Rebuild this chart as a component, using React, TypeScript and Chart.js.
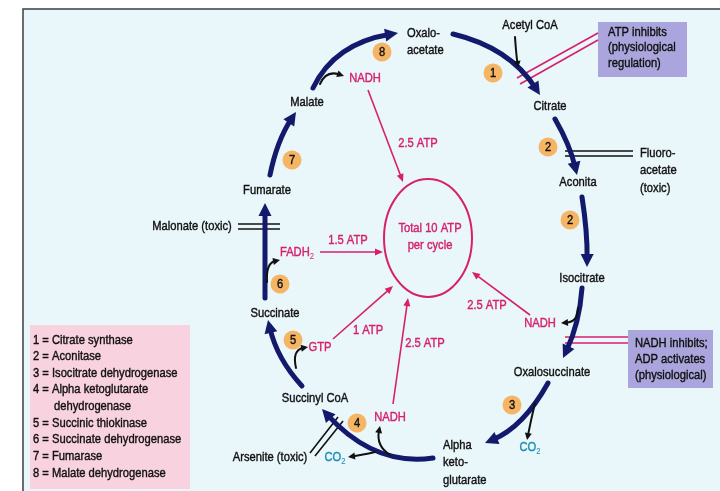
import React, { useEffect, useRef } from "react";
import { Chart, registerables } from "chart.js";
Chart.register(...registerables);

const W = 720;
const H = 491;

// Metabolites of the cycle (label lines, anchor x, anchor y, alignment)
const nodeLines = [["Oxalo-", "acetate"], ["Citrate"], ["Aconita"], ["Isocitrate"], ["Oxalosuccinate"], ["Alpha", "keto-", "glutarate"], ["Succinyl CoA"], ["Succinate"], ["Fumarate"], ["Malate"]];
const nodeX = [407, 550, 578, 582, 552, 443, 315, 275, 267, 307];
const nodeY = [33, 106, 182, 278, 372, 445, 398, 313, 190, 102];
const nodeAlign = ["left", "center", "center", "center", "center", "left", "center", "center", "center", "center"];

// Enzyme markers
const enzymeNums = ["1", "2", "2", "3", "4", "5", "6", "7", "8"];
const enzymeX = [493, 548, 570, 512, 357, 293, 280, 292, 382];
const enzymeY = [73, 147, 220, 405, 423, 340, 284, 160, 52];

// Cycle arcs: start, through-point, end
const cycleArcs = [
  [453, 34, 503, 56, 540, 95],
  [555, 119, 568, 146, 577, 175],
  [582, 197, 586, 232, 587, 267],
  [582, 288, 576, 323, 563, 358],
  [548, 383, 520, 420, 485, 443],
  [433, 458, 376, 450, 322, 409],
  [302, 386, 281, 356, 268, 320],
  [265, 298, 265, 250, 265, 203],
  [270, 175, 280, 142, 296, 112],
  [313, 88, 345, 52, 398, 33],
];

// Side-product arrows: start, control, end
const sideArrows = [
  [515, 37, 516, 52, 518, 68],
  [320, 84, 326, 70, 344, 76],
  [578, 308, 578, 322, 561, 323],
  [535, 403, 531, 420, 527, 440],
  [390, 455, 376, 446, 380, 426],
  [375, 452, 362, 455, 348, 457],
  [296, 368, 292, 350, 308, 347],
  [267, 282, 266, 263, 280, 260],
];

// Energy arrows to the ATP total
const energyArrows = [
  [368, 90, 403, 182],
  [320, 252, 383, 252],
  [333, 339, 393, 286],
  [393, 404, 408, 298],
  [530, 315, 472, 272],
];
const atpLabels = ["2.5 ATP", "1.5 ATP", "1 ATP", "2.5 ATP", "2.5 ATP"];
const atpX = [418, 348, 368, 425, 487];
const atpY = [143, 240, 330, 343, 305];

const nadhX = [365, 540, 390];
const nadhY = [78, 323, 417];
const co2X = [530, 335];
const co2Y = [447, 457];

// Inhibitor bars
const blackBars = [
  [238, 224, 280, 224], [238, 229, 280, 229],
  [565, 151, 633, 151], [565, 156, 633, 156],
  [310, 453, 338, 417], [315, 456, 343, 421],
];
const pinkBars = [
  [598, 33, 517, 78], [598, 40, 520, 84],
  [628, 337, 565, 337], [628, 343, 565, 343],
];

const atpBox = ["ATP inhibits", "(physiological", "regulation)"];
const nadhBox = ["NADH inhibits;", "ADP activates", "(physiological)"];
const fluoroLines = ["Fluoro-", "acetate", "(toxic)"];

const legendLines = [
  "1 = Citrate synthase",
  "2 = Aconitase",
  "3 = Isocitrate dehydrogenase",
  "4 = Alpha ketoglutarate",
  "dehydrogenase",
  "5 = Succinic thiokinase",
  "6 = Succinate dehydrogenase",
  "7 = Fumarase",
  "8 = Malate dehydrogenase",
];
const legendIndent = [0, 0, 0, 0, 1, 0, 0, 0, 0];
const legendY = [340, 356, 373, 389, 406, 423, 439, 456, 473];

const NAVY = "#131a6c";
const PINK = "#d6206c";
const TEAL = "#1a8db8";
const FONT = '"Liberation Sans", Arial, sans-serif';
const SX = 0.86;

function txt(ctx, s, x, y, color, align = "center", size = 13) {
  ctx.save();
  ctx.font = `${size}px ${FONT}`;
  ctx.fillStyle = color;
  ctx.strokeStyle = color;
  ctx.lineWidth = 0.4;
  ctx.textBaseline = "middle";
  ctx.textAlign = align;
  ctx.translate(x, y);
  ctx.scale(SX, 1);
  ctx.fillText(s, 0, 0);
  ctx.strokeText(s, 0, 0);
  ctx.restore();
}

function txtSub(ctx, base, sub, x, y, color) {
  ctx.save();
  ctx.font = `13px ${FONT}`;
  const w1 = ctx.measureText(base).width;
  ctx.font = `9px ${FONT}`;
  const w2 = ctx.measureText(sub).width;
  const total = (w1 + w2) * SX;
  ctx.translate(x - total / 2, y);
  ctx.scale(SX, 1);
  ctx.fillStyle = color;
  ctx.strokeStyle = color;
  ctx.lineWidth = 0.4;
  ctx.textBaseline = "middle";
  ctx.textAlign = "left";
  ctx.font = `13px ${FONT}`;
  ctx.fillText(base, 0, 0);
  ctx.strokeText(base, 0, 0);
  ctx.font = `9px ${FONT}`;
  ctx.fillText(sub, w1, 5);
  ctx.restore();
}

function head(ctx, x, y, fx, fy, len, half, color) {
  const a = Math.atan2(y - fy, x - fx);
  ctx.save();
  ctx.fillStyle = color;
  ctx.beginPath();
  ctx.moveTo(x, y);
  ctx.lineTo(x - len * Math.cos(a) + half * Math.sin(a), y - len * Math.sin(a) - half * Math.cos(a));
  ctx.lineTo(x - len * Math.cos(a) - half * Math.sin(a), y - len * Math.sin(a) + half * Math.cos(a));
  ctx.closePath();
  ctx.fill();
  ctx.restore();
}

const diagramPlugin = {
  id: "krebs",
  beforeDatasetsDraw(chart) {
    const ctx = chart.ctx;
    const X = (v) => chart.scales.x.getPixelForValue(v);
    const Y = (v) => chart.scales.y.getPixelForValue(v);
    ctx.save();
    // background & frame
    ctx.fillStyle = "#ffffff";
    ctx.fillRect(0, 0, W, H);
    ctx.fillStyle = "#e9f6fa";
    ctx.fillRect(X(23), Y(9), X(720) - X(23), Y(491) - Y(9));
    ctx.strokeStyle = "#3a3f45";
    ctx.lineWidth = 1.5;
    ctx.beginPath();
    ctx.moveTo(X(23), Y(491));
    ctx.lineTo(X(23), Y(9));
    ctx.lineTo(X(720), Y(9));
    ctx.stroke();

    // boxes
    ctx.fillStyle = "#aaa5dc";
    ctx.fillRect(X(598), Y(22), X(687) - X(598), Y(77) - Y(22));
    ctx.fillRect(X(628), Y(330), X(713) - X(628), Y(388) - Y(330));
    ctx.fillStyle = "#f8d2de";
    ctx.fillRect(X(30), Y(325), X(190) - X(30), Y(489) - Y(325));

    // inhibitor bars
    ctx.lineWidth = 1.6;
    ctx.strokeStyle = "#111111";
    blackBars.forEach((b) => {
      ctx.beginPath();
      ctx.moveTo(X(b[0]), Y(b[1]));
      ctx.lineTo(X(b[2]), Y(b[3]));
      ctx.stroke();
    });
    ctx.strokeStyle = PINK;
    pinkBars.forEach((b) => {
      ctx.beginPath();
      ctx.moveTo(X(b[0]), Y(b[1]));
      ctx.lineTo(X(b[2]), Y(b[3]));
      ctx.stroke();
    });

    // cycle arcs
    ctx.strokeStyle = NAVY;
    ctx.lineWidth = 5;
    ctx.lineCap = "round";
    cycleArcs.forEach((a) => {
      const x0 = X(a[0]), y0 = Y(a[1]), xm = X(a[2]), ym = Y(a[3]), x1 = X(a[4]), y1 = Y(a[5]);
      const cx = 2 * xm - (x0 + x1) / 2;
      const cy = 2 * ym - (y0 + y1) / 2;
      const ang = Math.atan2(y1 - cy, x1 - cx);
      const ex = x1 - 8 * Math.cos(ang);
      const ey = y1 - 8 * Math.sin(ang);
      ctx.beginPath();
      ctx.moveTo(x0, y0);
      ctx.quadraticCurveTo(cx, cy, ex, ey);
      ctx.stroke();
      head(ctx, x1, y1, cx, cy, 13, 6.5, NAVY);
    });

    // side arrows
    ctx.strokeStyle = "#111111";
    ctx.lineWidth = 2;
    sideArrows.forEach((a) => {
      const x0 = X(a[0]), y0 = Y(a[1]), cx = X(a[2]), cy = Y(a[3]), x1 = X(a[4]), y1 = Y(a[5]);
      const ang = Math.atan2(y1 - cy, x1 - cx);
      ctx.beginPath();
      ctx.moveTo(x0, y0);
      ctx.quadraticCurveTo(cx, cy, x1 - 5 * Math.cos(ang), y1 - 5 * Math.sin(ang));
      ctx.stroke();
      head(ctx, x1, y1, cx, cy, 7, 3.5, "#111111");
    });

    // energy arrows
    ctx.strokeStyle = PINK;
    ctx.lineWidth = 1.6;
    ctx.lineCap = "butt";
    energyArrows.forEach((a) => {
      const x0 = X(a[0]), y0 = Y(a[1]), x1 = X(a[2]), y1 = Y(a[3]);
      const ang = Math.atan2(y1 - y0, x1 - x0);
      ctx.beginPath();
      ctx.moveTo(x0, y0);
      ctx.lineTo(x1 - 5 * Math.cos(ang), y1 - 5 * Math.sin(ang));
      ctx.stroke();
      head(ctx, x1, y1, x0, y0, 8, 3.5, PINK);
    });

    // total ATP ellipse
    ctx.lineWidth = 2;
    ctx.beginPath();
    ctx.ellipse(X(428), Y(238), X(472) - X(428), Y(297) - Y(238), 0, 0, Math.PI * 2);
    ctx.stroke();
    ctx.restore();
  },
  afterDatasetsDraw(chart) {
    const ctx = chart.ctx;
    const X = (v) => chart.scales.x.getPixelForValue(v);
    const Y = (v) => chart.scales.y.getPixelForValue(v);

    nodeLines.forEach((lines, i) => {
      lines.forEach((s, j) => txt(ctx, s, X(nodeX[i]), Y(nodeY[i] + j * 17.5), "#111111", nodeAlign[i]));
    });
    enzymeNums.forEach((n, i) => txt(ctx, n, X(enzymeX[i]), Y(enzymeY[i] + 0.5), "#111111", "center", 13));

    atpLabels.forEach((s, i) => txt(ctx, s, X(atpX[i]), Y(atpY[i]), PINK));
    nadhX.forEach((x, i) => txt(ctx, "NADH", X(x), Y(nadhY[i]), PINK));
    txtSub(ctx, "FADH", "2", X(297), Y(252), PINK);
    txt(ctx, "GTP", X(320), Y(347), PINK);
    co2X.forEach((x, i) => txtSub(ctx, "CO", "2", X(x), Y(co2Y[i]), TEAL));
    txt(ctx, "Total 10 ATP", X(430), Y(228), PINK);
    txt(ctx, "per cycle", X(430), Y(245), PINK);

    txt(ctx, "Acetyl CoA", X(530), Y(25), "#111111");
    txt(ctx, "Malonate (toxic)", X(192), Y(226), "#111111");
    txt(ctx, "Arsenite (toxic)", X(270), Y(457), "#111111");
    fluoroLines.forEach((s, i) => txt(ctx, s, X(640), Y(153 + i * 17.5), "#111111", "left"));
    atpBox.forEach((s, i) => txt(ctx, s, X(608), Y(32 + i * 15.5), "#111111", "left"));
    nadhBox.forEach((s, i) => txt(ctx, s, X(635), Y(343 + i * 16), "#111111", "left"));
    legendLines.forEach((s, i) => txt(ctx, s, X(legendIndent[i] ? 54 : 33), Y(legendY[i]), "#111111", "left"));
  },
};

export default function App() {
  const ref = useRef<HTMLCanvasElement>(null);
  useEffect(() => {
    document.body.style.margin = "0";
    const chart = new Chart(ref.current, {
      type: "scatter",
      data: {
        datasets: [
          {
            label: "Enzymes",
            data: enzymeX.map((x, i) => ({ x, y: enzymeY[i] })),
            pointRadius: 9.5,
            pointHoverRadius: 9.5,
            backgroundColor: "#f5b565",
            borderWidth: 0,
          },
          {
            label: "Metabolites",
            data: nodeX.map((x, i) => ({ x, y: nodeY[i] })),
            pointRadius: 0,
            pointHoverRadius: 0,
          },
        ],
      },
      options: {
        responsive: false,
        animation: false,
        devicePixelRatio: 1,
        layout: { padding: 0, autoPadding: false },
        plugins: { legend: { display: false }, tooltip: { enabled: false } },
        events: [],
        scales: {
          x: { type: "linear", min: 0, max: W, display: false },
          y: { type: "linear", min: 0, max: H, reverse: true, display: false },
        },
      },
      plugins: [diagramPlugin],
    });
    return () => chart.destroy();
  }, []);
  return (
    <div style={{ position: "fixed", left: 0, top: 0, width: W, height: H }}>
      <canvas ref={ref} width={W} height={H} style={{ display: "block", width: W, height: H }} />
    </div>
  );
}
